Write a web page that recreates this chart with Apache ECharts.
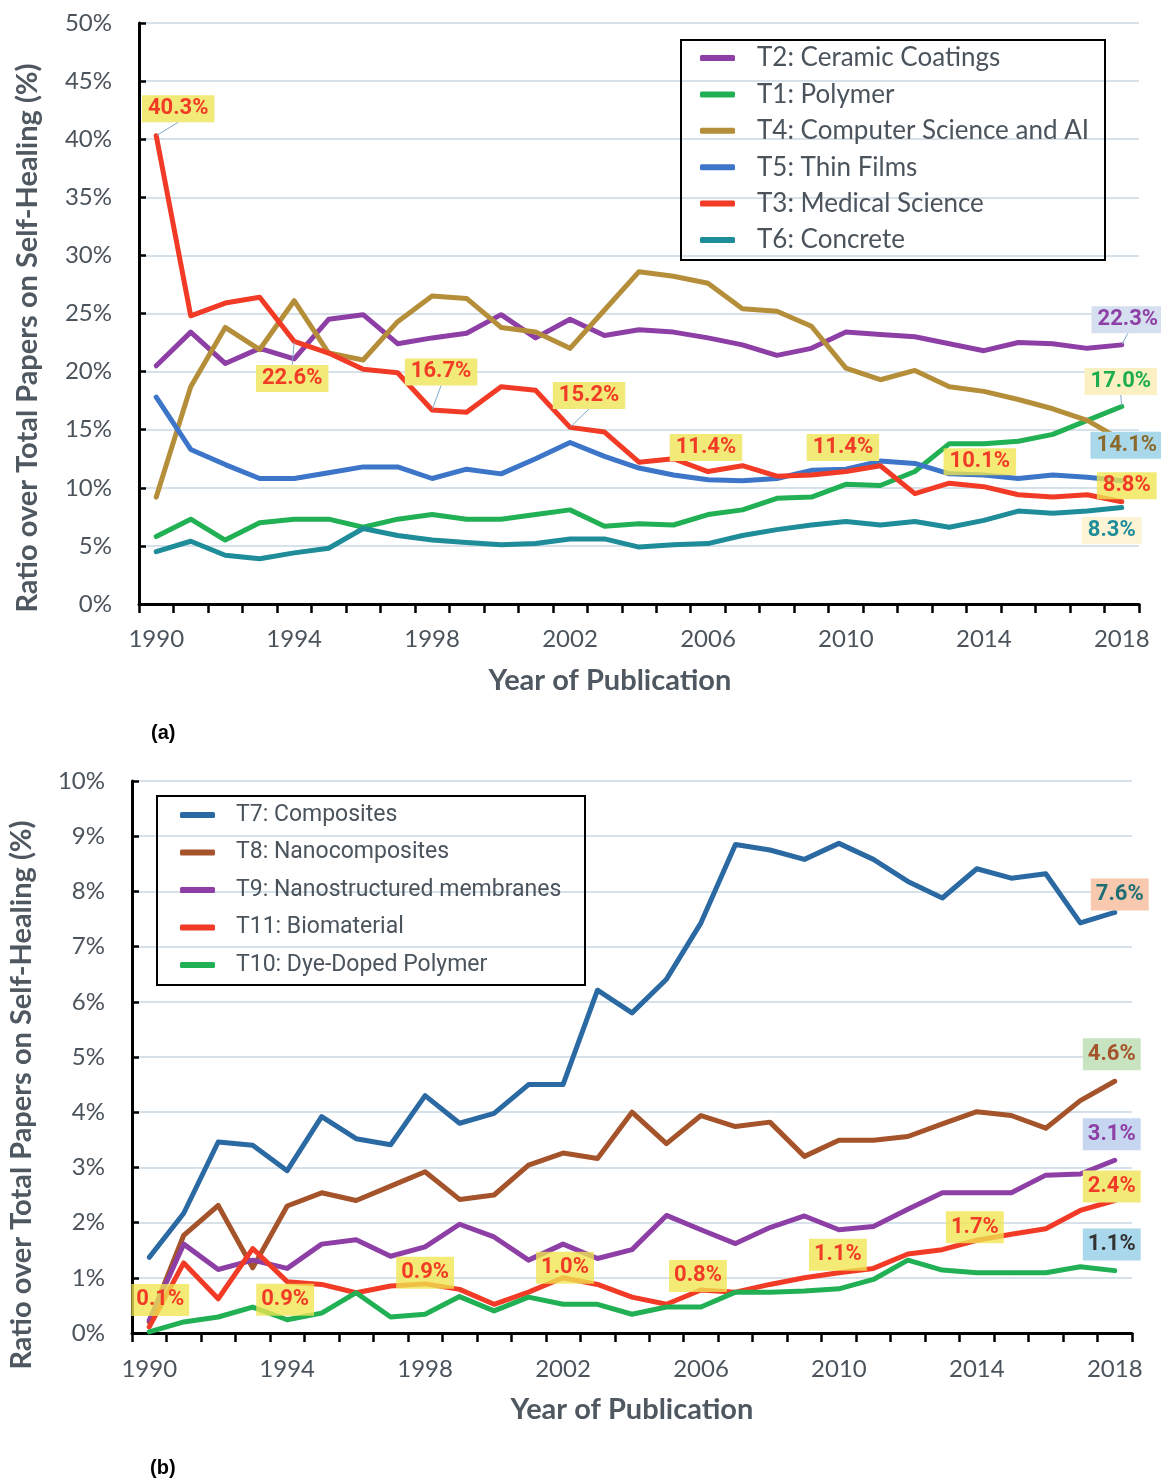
<!DOCTYPE html>
<html><head><meta charset="utf-8">
<script src="https://cdn.jsdelivr.net/npm/echarts@6/dist/echarts.min.js"></script>
<style>html,body{margin:0;padding:0;background:#fff}#c{width:1161px;height:1482px}</style>
</head><body><div id="c"></div>
<script>
// ---- data ----
const years = ['1990','1991','1992','1993','1994','1995','1996','1997','1998','1999','2000','2001','2002','2003','2004','2005','2006','2007','2008','2009','2010','2011','2012','2013','2014','2015','2016','2017','2018'];
const yTicksA = [0,5,10,15,20,25,30,35,40,45,50];
const yTicksB = [0,1,2,3,4,5,6,7,8,9,10];

// chart (a)
const t2Ceramic = [20.5,23.4,20.7,22.0,21.1,24.5,24.9,22.4,22.9,23.3,24.9,22.9,24.5,23.1,23.6,23.4,22.9,22.3,21.4,22.0,23.4,23.2,23.0,22.4,21.8,22.5,22.4,22.0,22.3];
const t1Polymer = [5.8,7.3,5.5,7.0,7.3,7.3,6.6,7.3,7.7,7.3,7.3,7.7,8.1,6.7,6.9,6.8,7.7,8.1,9.1,9.2,10.3,10.2,11.4,13.8,13.8,14.0,14.6,15.8,17.0];
const t4CompSci = [9.2,18.7,23.8,21.9,26.1,21.6,21.0,24.3,26.5,26.3,23.8,23.4,22.0,25.3,28.6,28.2,27.6,25.4,25.2,23.9,20.3,19.3,20.1,18.7,18.3,17.6,16.8,15.8,14.1];
const t5ThinFilms = [17.8,13.3,12.0,10.8,10.8,11.3,11.8,11.8,10.8,11.6,11.2,12.5,13.9,12.7,11.7,11.1,10.7,10.6,10.8,11.5,11.6,12.3,12.1,11.2,11.1,10.8,11.1,10.9,10.6];
const t3Medical = [40.3,24.8,25.9,26.4,22.6,21.6,20.2,19.9,16.7,16.5,18.7,18.4,15.2,14.8,12.2,12.5,11.4,11.9,11.0,11.1,11.4,11.9,9.5,10.4,10.1,9.4,9.2,9.4,8.8];
const t6Concrete = [4.5,5.4,4.2,3.9,4.4,4.8,6.5,5.9,5.5,5.3,5.1,5.2,5.6,5.6,4.9,5.1,5.2,5.9,6.4,6.8,7.1,6.8,7.1,6.6,7.2,8.0,7.8,8.0,8.3];

// chart (b)
const t7Composites = [1.37,2.17,3.46,3.40,2.94,3.92,3.52,3.41,4.30,3.80,3.98,4.50,4.50,6.21,5.80,6.41,7.43,8.85,8.75,8.58,8.87,8.58,8.18,7.88,8.41,8.24,8.32,7.43,7.62];
const t8Nanocomp = [0.2,1.77,2.31,1.18,2.30,2.54,2.40,2.66,2.92,2.42,2.50,3.04,3.26,3.16,4.0,3.43,3.94,3.74,3.82,3.2,3.49,3.49,3.56,3.79,4.01,3.94,3.71,4.21,4.56];
const t9Membranes = [0.23,1.61,1.15,1.32,1.17,1.61,1.69,1.39,1.56,1.97,1.74,1.32,1.61,1.35,1.51,2.13,1.87,1.62,1.91,2.12,1.87,1.93,2.24,2.54,2.54,2.54,2.86,2.88,3.13];
const t11Biomat = [0.11,1.27,0.62,1.53,0.93,0.88,0.73,0.85,0.89,0.79,0.52,0.74,1.0,0.88,0.65,0.52,0.78,0.74,0.88,1.0,1.09,1.17,1.43,1.51,1.68,1.79,1.89,2.22,2.40];
const t10DyeDoped = [0.02,0.2,0.29,0.47,0.24,0.36,0.73,0.29,0.34,0.66,0.40,0.65,0.52,0.52,0.34,0.47,0.47,0.74,0.74,0.76,0.80,0.97,1.32,1.14,1.09,1.09,1.09,1.20,1.13];

// ---- styling ----
const LEAD = '#7fa7c7';
const YEL = '#f1ea78';
const YELT = 'rgba(240,230,80,0.78)';
const RED = '#f23b26';
const TXT = '#4b545c';

function mkSeries(name, values, color, gi, labels) {
  labels = labels || {};
  const data = values.map((v, i) => {
    const s = labels[i];
    if (!s) return v;
    return {
      value: v,
      label: {
        show: true, position: 'inside',
        color: s.color, backgroundColor: s.bg,
        padding: s.pad || [3, 6, 2, 6],
        fontFamily: 'Roboto', fontWeight: 'bold', fontSize: 22,
        formatter: p => Number(p.value).toFixed(1) + '%'
      },
      labelLine: { show: !!s.lead, lineStyle: { color: LEAD, width: 1 } }
    };
  });
  return {
    name, type: 'line', xAxisIndex: gi, yAxisIndex: gi, data,
    symbol: 'circle', symbolSize: 1, showSymbol: true, showAllSymbol: true,
    itemStyle: { color }, lineStyle: { color, width: 5, cap: 'round', join: 'round' },
    label: { show: false },
    labelLayout: p => { const s = labels[p.dataIndex]; return s ? { dx: s.dx, dy: s.dy } : {}; },
    emphasis: { disabled: true }, silent: true
  };
}

const padB = [6, 5, 4, 5];
const series = [
  mkSeries('T2: Ceramic Coatings', t2Ceramic, '#8e3fa6', 0, {
    28: { dx: 6, dy: -25, color: '#8e3fa6', bg: '#d6dff0', lead: true } }),
  mkSeries('T1: Polymer', t1Polymer, '#22b055', 0, {
    28: { dx: -1, dy: -25, color: '#1cae4e', bg: '#fbf0c2', lead: true } }),
  mkSeries('T4: Computer Science and AI', t4CompSci, '#b58e3a', 0, {
    28: { dx: 5, dy: 5, color: '#8a6a2c', bg: '#a8d8ea' } }),
  mkSeries('T5: Thin Films', t5ThinFilms, '#3d76c8', 0),
  mkSeries('T3: Medical Science', t3Medical, RED, 0, {
    0: { dx: 22, dy: -27, color: RED, bg: YEL, lead: true },
    4: { dx: -2, dy: 37, color: RED, bg: YEL, lead: true },
    8: { dx: 9, dy: -38, color: RED, bg: YEL, lead: true },
    12: { dx: 19, dy: -32, color: RED, bg: YEL, lead: true },
    16: { dx: -2, dy: -24, color: RED, bg: YEL },
    20: { dx: -3, dy: -24, color: RED, bg: YEL },
    24: { dx: -4, dy: -25, color: RED, bg: YELT },
    28: { dx: 5, dy: -16, color: RED, bg: YELT } }),
  mkSeries('T6: Concrete', t6Concrete, '#1e8c99', 0, {
    28: { dx: -10, dy: 23, color: '#1e8c99', bg: '#fdf4d6' } }),

  mkSeries('T7: Composites', t7Composites, '#2b69a3', 1, {
    28: { dx: 5, dy: -18, color: '#1f6e74', bg: '#f8c9ae', pad: padB } }),
  mkSeries('T8: Nanocomposites', t8Nanocomp, '#a5532a', 1, {
    28: { dx: -3, dy: -27, color: '#a5532a', bg: '#c7e3c0', pad: padB } }),
  mkSeries('T9: Nanostructured membranes', t9Membranes, '#8e3fa6', 1, {
    28: { dx: -3, dy: -26, color: '#8e3fa6', bg: '#c6d6f0', pad: padB } }),
  mkSeries('T11: Biomaterial', t11Biomat, RED, 1, {
    0: { dx: 11, dy: -27, color: RED, bg: YELT, pad: padB },
    4: { dx: -2, dy: 18, color: RED, bg: YELT, pad: padB },
    8: { dx: 0, dy: -11, color: RED, bg: YELT, pad: padB },
    12: { dx: 2, dy: -10, color: RED, bg: YELT, pad: padB },
    16: { dx: -3, dy: -14, color: RED, bg: YELT, pad: padB },
    20: { dx: -1, dy: -18, color: RED, bg: YELT, pad: padB },
    24: { dx: -2, dy: -13, color: RED, bg: YELT, pad: padB },
    28: { dx: -3, dy: -14, color: RED, bg: YEL, pad: padB } }),
  mkSeries('T10: Dye-Doped Polymer', t10DyeDoped, '#22b055', 1, {
    28: { dx: -3, dy: -26, color: '#333333', bg: '#a9d7ec', pad: padB } })
];

function xAx(gi, gap, margin, namePad) {
  return {
    type: 'category', gridIndex: gi, data: years, boundaryGap: true,
    axisLine: { show: true, lineStyle: { color: '#000', width: 3 } },
    axisTick: { show: true, interval: 0, length: 9, lineStyle: { color: '#000', width: 2.5 } },
    axisLabel: { interval: 3, fontSize: 24, color: TXT, fontFamily: 'Lato', margin },
    splitLine: { show: false },
    name: 'Year of Publication', nameLocation: 'middle', nameGap: gap,
    nameTextStyle: { fontSize: 29, fontWeight: 'bold', color: '#4f5860', fontFamily: 'Lato', padding: namePad }
  };
}
function yAx(gi, ticks) {
  return {
    type: 'value', gridIndex: gi, min: ticks[0], max: ticks[ticks.length - 1],
    interval: ticks[1] - ticks[0],
    axisLine: { show: true, lineStyle: { color: '#000', width: 3 } },
    axisTick: { show: true, inside: true, length: 7, lineStyle: { color: '#000', width: 2.5 } },
    axisLabel: { formatter: '{value}%', fontSize: 24, color: TXT, fontFamily: 'Lato', margin: 27 },
    splitLine: { show: true, lineStyle: { color: '#c9d7e3', width: 1.5 } }
  };
}

const yTitle = 'Ratio over Total Papers on Self-Healing (%)';
const option = {
  animation: false,
  backgroundColor: '#fff',
  grid: [
    { left: 139, top: 23, width: 1000, height: 581 },
    { left: 132, top: 781, width: 1000, height: 552 }
  ],
  xAxis: [xAx(0, 62, 23, [0, 58, 0, 0]), xAx(1, 62, 24, [0, 0, 0, 0])],
  yAxis: [yAx(0, yTicksA), yAx(1, yTicksB)],
  legend: [
    { data: ['T2: Ceramic Coatings','T1: Polymer','T4: Computer Science and AI','T5: Thin Films','T3: Medical Science','T6: Concrete'],
      orient: 'vertical', left: 700, top: 45, padding: 0, itemGap: 10.4,
      icon: 'roundRect', itemWidth: 35, itemHeight: 6,
      textStyle: { fontSize: 26, fontFamily: 'Lato', color: TXT, lineHeight: 26, padding: [0, 0, 0, 17] } },
    { data: ['T7: Composites','T8: Nanocomposites','T9: Nanostructured membranes','T11: Biomaterial','T10: Dye-Doped Polymer'],
      orient: 'vertical', left: 180, top: 802, padding: 0, itemGap: 11.5,
      icon: 'roundRect', itemWidth: 35, itemHeight: 6,
      textStyle: { fontSize: 23, fontFamily: 'Roboto', color: TXT, lineHeight: 26, padding: [0, 0, 0, 16] } }
  ],
  graphic: [
    { type: 'rect', shape: { x: 681, y: 40, width: 424, height: 220 }, style: { fill: 'rgba(0,0,0,0)', stroke: '#000', lineWidth: 2 }, z: 100, silent: true },
    { type: 'rect', shape: { x: 157, y: 796, width: 428, height: 189 }, style: { fill: 'rgba(0,0,0,0)', stroke: '#000', lineWidth: 2 }, z: 100, silent: true },
    { type: 'text', x: 28, y: 338, rotation: Math.PI / 2, style: { text: yTitle, textAlign: 'center', textVerticalAlign: 'middle', fill: '#4f5860', font: 'bold 29px Lato' } },
    { type: 'text', x: 22, y: 1095, rotation: Math.PI / 2, style: { text: yTitle, textAlign: 'center', textVerticalAlign: 'middle', fill: '#4f5860', font: 'bold 29px Lato' } },
    { type: 'text', x: 151, y: 733, style: { text: '(a)', textAlign: 'left', textVerticalAlign: 'middle', fill: '#000', font: 'bold 20px "Liberation Sans"' } },
    { type: 'text', x: 150, y: 1468, style: { text: '(b)', textAlign: 'left', textVerticalAlign: 'middle', fill: '#000', font: 'bold 20px "Liberation Sans"' } }
  ],
  series
};
const chart = echarts.init(document.getElementById('c'));
chart.setOption(option);
</script></body></html>
